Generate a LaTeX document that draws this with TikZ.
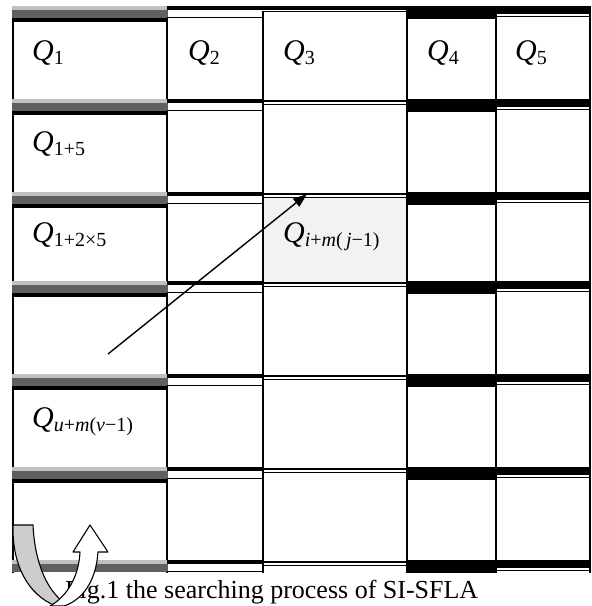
\documentclass[tikz,border=0pt]{standalone}
\usepackage{fontspec}
\setmainfont{Liberation Serif}
\usepackage{tikz}
\usetikzlibrary{arrows.meta,positioning,calc}
\definecolor{bandlight}{HTML}{C0C0C0}
\definecolor{banddark}{HTML}{606060}
\definecolor{cellshade}{HTML}{F2F2F2}
\tikzset{
  gridline/.style={line width=1.8pt},
  thinline/.style={line width=1.3pt},
  qlabel/.style={anchor=base west,inner sep=0pt},
  shadecell/.style={fill=cellshade,inner sep=0pt,minimum width=142pt,minimum height=86pt},
  searcharrow/.style={-{Triangle[length=14pt,width=10pt]},line width=1.4pt},
  turnback/.style={draw=black,line width=1.1pt,line join=round},
  captionfont/.style={font=\fontsize{26}{28}\selectfont,inner sep=0pt,anchor=base west}
}
\newcommand{\qname}[1]{{\fontsize{30}{30}\selectfont\textit{Q}}\raisebox{-4pt}{\fontsize{20}{20}\selectfont #1}}

\begin{document}
\begin{tikzpicture}[x=1pt,y=-1pt]
  \useasboundingbox (0,0) rectangle (592,606);
  \node[shadecell] (hl) at (335,240) {};
  \foreach \x in {13,167,263,407,496,590}
    \draw[gridline] (\x,11) -- (\x,573);
  \foreach \t in {6,99,192,281,374,467,560} {
    \fill[bandlight] (12,\t) rectangle (168,\t+4);
    \fill[banddark] (12,\t+4) rectangle (168,\t+12);
    \fill (167,\t) rectangle (263,\t+4);
    \draw[thinline] (167,\t+11.5) -- (263,\t+11.5);
    \fill (406,\t) rectangle (497,\t+13);
    \fill (496,\t) rectangle (591,\t+8);
    \draw[thinline] (496,\t+10.5) -- (591,\t+10.5);
  }
  \foreach \t in {6,99,192,281,374,467}
    \fill (12,\t+12) rectangle (168,\t+16);
  \fill (263,6) rectangle (407,9.5);
  \draw[thinline] (263,11.5) -- (407,11.5);
  \foreach \t in {99,192,281,374,467,560} {
    \draw[thinline] (263,\t+2) -- (407,\t+2);
    \draw[thinline] (263,\t+5.5) -- (407,\t+5.5);
  }
  \node[qlabel] (q1) at (32,60) {\qname{1}};
  \node[qlabel] (q2) at (188,60) {\qname{2}};
  \node[qlabel] (q3) at (283,60) {\qname{3}};
  \node[qlabel] (q4) at (427,60) {\qname{4}};
  \node[qlabel] (q5) at (515,60) {\qname{5}};
  \node[qlabel] (q6) at (32,151) {\qname{1+5}};
  \node[qlabel] (q11) at (32,242) {\qname{1+2×5}};
  \node[qlabel] (qij) at (283,242) {\qname{\textit{i}+\textit{m}(\,\textit{j}−1)}};
  \node[qlabel] (quv) at (32,427) {\qname{\textit{u}+\textit{m}(\textit{v}−1)}};
  \coordinate (start) at (108,354);
  \coordinate (tip) at (307,194);
  \draw[searcharrow] (start) -- (tip);
  \node[captionfont] (cap) at (65,598) {Fig.1 the searching process of SI-SFLA};
  \filldraw[turnback,fill=bandlight!80] (13,525) -- (33,525)
    .. controls (35,565) and (48,592) .. (66,604) -- (56,606)
    .. controls (28,595) and (12,565) .. (13,525) -- cycle;
  \filldraw[turnback,fill=white] (50,606) .. controls (68,596) and (79,575) .. (80,552)
    -- (73,552) -- (90,525) -- (108,552) -- (98,552)
    .. controls (96,582) and (82,600) .. (64,606) -- cycle;
\end{tikzpicture}
\end{document}
